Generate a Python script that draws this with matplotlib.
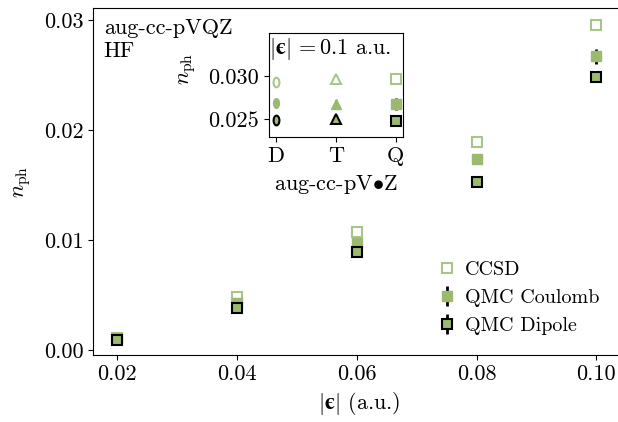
import matplotlib
matplotlib.use("Agg")
import matplotlib.pyplot as plt
from matplotlib.path import Path
from matplotlib.transforms import Affine2D

plt.rcParams['font.family'] = 'cmr10'
plt.rcParams['mathtext.fontset'] = 'cm'
plt.rcParams['axes.formatter.use_mathtext'] = True
plt.rcParams['font.size'] = 16

# main panel data
field = [0.02, 0.04, 0.06, 0.08, 0.10]
ccsd = [0.0011, 0.0048, 0.0107, 0.0189, 0.0296]
coulomb = [0.0011, 0.0043, 0.0097, 0.0174, 0.0267]
coulomb_err = [0.0001, 0.0002, 0.0002, 0.0003, 0.0007]
dipole = [0.0009, 0.0038, 0.0089, 0.0153, 0.0248]
dipole_err = [0.0001, 0.0001, 0.0001, 0.0002, 0.0003]

# inset data (|eps| = 0.1)
basis = ['D', 'T', 'Q']
ccsd_basis = [0.0293, 0.0297, 0.0296]
coulomb_basis = [0.0268, 0.0267, 0.0267]
coulomb_basis_err = [0.0002, 0.0005, 0.0007]
dipole_basis = [0.0249, 0.0250, 0.0248]
dipole_basis_err = [0.0002, 0.0003, 0.0003]

light = '#a9c68a'
green = '#9bba6f'

ellipse = Path.unit_circle().transformed(Affine2D().scale(0.6, 1.0))
markers = [ellipse, '^', 's']

eps = r'$|\mathbf{ϵ}|$'

fig = plt.figure(figsize=(6.18, 4.22), dpi=100)
ax = fig.add_axes([0.1505, 0.1588, 0.862, 0.822])

ax.plot(field, ccsd, 's', ms=7, mfc='white', mec=light, mew=1.5, ls='none', label='CCSD')
ax.errorbar(field, coulomb, yerr=coulomb_err, fmt='s', ms=7, mfc=green, mec=green,
            ecolor='black', elinewidth=2, capsize=0, label='QMC Coulomb')
ax.errorbar(field, dipole, yerr=dipole_err, fmt='s', ms=7, mfc=green, mec='black', mew=1.5,
            ecolor='black', elinewidth=2, capsize=0, label='QMC Dipole')

ax.set_xlim(0.016, 0.1049)
ax.set_ylim(-0.00045, 0.0311)
ax.set_xticks([0.02, 0.04, 0.06, 0.08, 0.10])
ax.set_xticklabels(['0.02', '0.04', '0.06', '0.08', '0.10'])
ax.set_yticks([0.0, 0.01, 0.02, 0.03])
ax.set_yticklabels(['0.00', '0.01', '0.02', '0.03'])
ax.set_xlabel(eps + ' (a.u.)')
ax.set_ylabel(r'$n_{\rm ph}$', labelpad=8)
ax.text(0.02, 0.97, 'aug-cc-pVQZ', transform=ax.transAxes, va='top', ha='left')
ax.text(0.02, 0.905, 'HF', transform=ax.transAxes, va='top', ha='left')
ax.legend(loc='lower right', bbox_to_anchor=(0.985, 0.005), frameon=False, fontsize=14.5,
          handletextpad=0.4, handlelength=1.0, labelspacing=0.5)

ins = fig.add_axes([0.4353, 0.6754, 0.2168, 0.2464])
xpos = range(len(basis))
for i in xpos:
    ins.plot(i, ccsd_basis[i], marker=markers[i], ms=7, mfc='white', mec=light, mew=1.5, ls='none')
    ins.errorbar(i, coulomb_basis[i], yerr=coulomb_basis_err[i], marker=markers[i], ms=7,
                 mfc=green, mec=green, ecolor='black', elinewidth=2, capsize=0, ls='none')
    ins.errorbar(i, dipole_basis[i], yerr=dipole_basis_err[i], marker=markers[i], ms=7,
                 mfc=green, mec='black', mew=1.5, ecolor='black', elinewidth=2, capsize=0, ls='none')
ins.set_xlim(-0.12, 2.12)
ins.set_ylim(0.0229, 0.035)
ins.set_xticks(list(xpos))
ins.set_xticklabels(basis)
ins.set_yticks([0.025, 0.030])
ins.set_yticklabels(['0.025', '0.030'])
ins.set_xlabel(r'aug-cc-pV$\bullet$Z', labelpad=5)
ins.set_ylabel(r'$n_{\rm ph}$')
ins.yaxis.set_label_coords(-0.53, 0.66)
ins.text(0.0, 0.97, eps + r'$\,= 0.1$ a.u.', transform=ins.transAxes,
         va='top', ha='left')

fig.savefig('out.png', dpi=100)
